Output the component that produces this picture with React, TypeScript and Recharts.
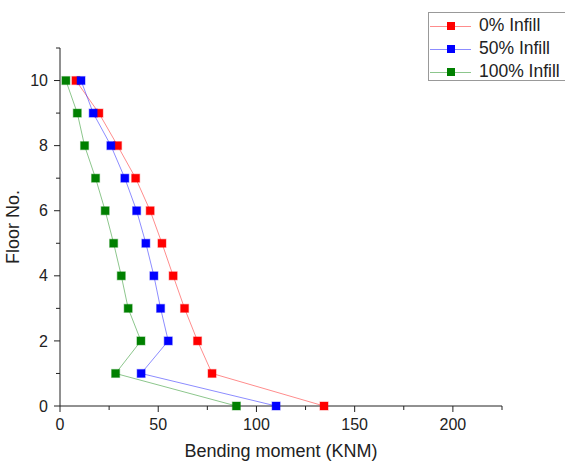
import { Label, Legend, Scatter, ScatterChart, XAxis, YAxis } from "recharts";

const floors = [10, 9, 8, 7, 6, 5, 4, 3, 2, 1, 0];
const infill0 = [8.1, 19.8, 29.3, 38.5, 45.9, 51.9, 57.6, 63.4, 70.0, 77.4, 134.4];
const infill50 = [10.7, 16.9, 25.9, 33.0, 39.0, 43.7, 47.8, 51.2, 55.1, 41.3, 110.0];
const infill100 = [3.0, 8.8, 12.5, 18.1, 23.0, 27.3, 31.2, 34.7, 41.2, 28.3, 89.8];

const xTicks = [0, 25, 50, 75, 100, 125, 150, 175, 200, 225];
const yTicks = [0, 1, 2, 3, 4, 5, 6, 7, 8, 9, 10, 11];

const series = [
  { name: "0% Infill", color: "#ff0000", values: infill0 },
  { name: "50% Infill", color: "#0000ff", values: infill50 },
  { name: "100% Infill", color: "#008000", values: infill100 },
];

const ink = "#222";

function XTick({ x, y, payload }: any) {
  const major = payload.value % 50 === 0;
  return (
    <g>
      <line x1={x} x2={x} y1={y} y2={y + (major ? 6 : 4)} stroke={ink} />
      {major && (
        <text x={x} y={y + 23.5} textAnchor="middle" fontSize={16} fill={ink}>
          {payload.value}
        </text>
      )}
    </g>
  );
}

function YTick({ x, y, payload }: any) {
  const major = payload.value % 2 === 0;
  return (
    <g>
      <line x1={x} x2={x - (major ? 6 : 4)} y1={y} y2={y} stroke={ink} />
      {major && (
        <text x={x - 12} y={y} dy="0.35em" textAnchor="end" fontSize={16} fill={ink}>
          {payload.value}
        </text>
      )}
    </g>
  );
}

function Square({ cx, cy, color }: any) {
  return (
    <rect
      x={cx - 4}
      y={cy - 4}
      width={8}
      height={8}
      fill={color}
      stroke={color}
      strokeOpacity={0.35}
      strokeWidth={1.2}
    />
  );
}

function LegendBox() {
  return (
    <div
      style={{
        border: "1px solid #999",
        background: "#fff",
        width: 140,
        height: 69,
        boxSizing: "border-box",
        paddingTop: 1,
      }}
    >
      {series.map((s) => (
        <div key={s.name} style={{ display: "flex", alignItems: "center", height: 23 }}>
          <div style={{ position: "relative", width: 41, marginLeft: 1, height: 10, flexShrink: 0 }}>
            <div
              style={{
                position: "absolute",
                left: 0,
                right: 0,
                top: 5,
                height: 1,
                background: s.color,
                opacity: 0.45,
              }}
            />
            <div
              style={{
                position: "absolute",
                left: 17,
                top: 1,
                width: 8,
                height: 8,
                background: s.color,
              }}
            />
          </div>
          <span style={{ marginLeft: 8, fontSize: 17.5, color: ink, whiteSpace: "nowrap" }}>
            {s.name}
          </span>
        </div>
      ))}
    </div>
  );
}

export default function App() {
  return (
    <div
      style={{
        position: "absolute",
        left: 0,
        top: 0,
        background: "#fff",
        fontFamily: "'Liberation Sans', Arial, sans-serif",
      }}
    >
      <ScatterChart width={565} height={464} margin={{ top: 48, right: 63, left: 0, bottom: 0 }}>
        <XAxis
          type="number"
          dataKey="x"
          domain={[0, 225]}
          ticks={xTicks}
          interval={0}
          height={58}
          tickSize={0}
          tickMargin={0}
          tick={<XTick />}
          axisLine={{ stroke: ink }}
          tickLine={false}
        >
          <Label value="Bending moment (KNM)" position="insideBottom" offset={7} fontSize={18} fill={ink} />
        </XAxis>
        <YAxis
          type="number"
          dataKey="y"
          domain={[0, 11]}
          ticks={yTicks}
          interval={0}
          width={60}
          tickSize={0}
          tickMargin={0}
          tick={<YTick />}
          axisLine={{ stroke: ink }}
          tickLine={false}
        >
          <Label
            value="Floor No."
            position="insideLeft"
            angle={-90}
            offset={13}
            fontSize={18}
            fill={ink}
            style={{ textAnchor: "middle" }}
          />
        </YAxis>
        <Legend
          layout="vertical"
          align="center"
          verticalAlign="middle"
          content={<LegendBox />}
          wrapperStyle={{ top: 12, left: 428, width: 140 }}
        />
        {series.map((s) => (
          <Scatter
            key={s.name}
            name={s.name}
            data={floors.map((f, i) => ({ x: s.values[i], y: f }))}
            line={{ stroke: s.color, strokeOpacity: 0.45, strokeWidth: 1 }}
            shape={(p: any) => <Square {...p} color={s.color} />}
            isAnimationActive={false}
          />
        ))}
      </ScatterChart>
    </div>
  );
}
